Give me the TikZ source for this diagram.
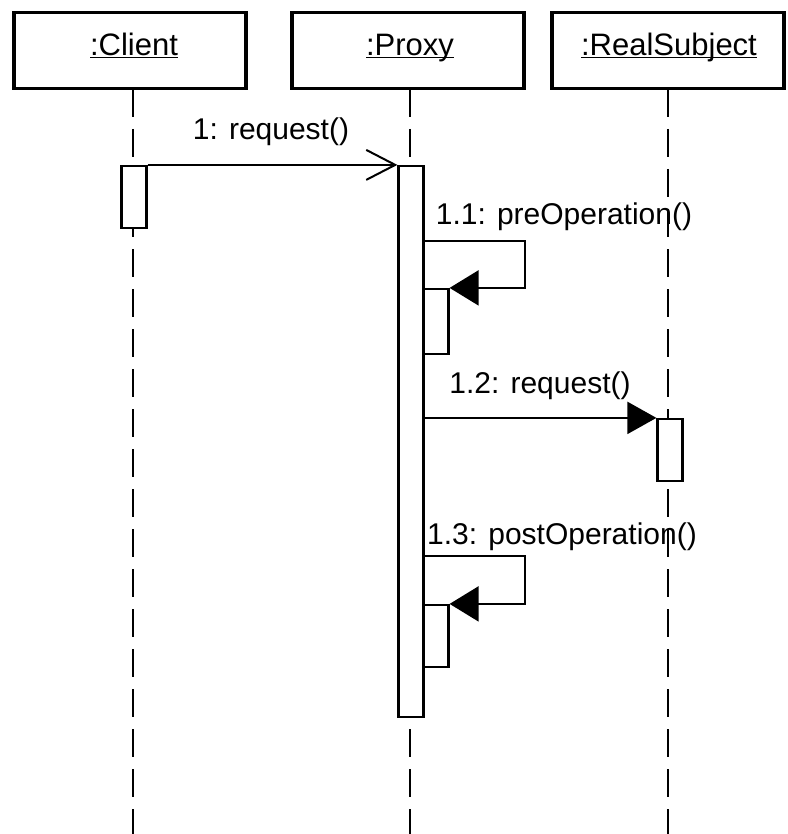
\documentclass[tikz,border=0pt]{standalone}
\usepackage{fontspec}
\setmainfont{Liberation Sans}
\usetikzlibrary{arrows.meta}
\newcommand{\myul}[1]{\underline{\smash{#1}}}
\begin{document}
\begin{tikzpicture}[x=1pt,y=-1pt,
  objbox/.style={draw,line width=3.5pt,minimum width=232pt,minimum height=76pt,inner sep=0pt,fill=white},
  lifeline/.style={line width=2pt,dash pattern=on 28pt off 12pt},
  actbox/.style={draw,line width=2.2pt,fill=white,minimum width=25pt,inner sep=0pt},
  msg/.style={line width=2pt},
  lbl/.style={font=\fontsize{30}{35}\selectfont,inner sep=0pt},
  ttl/.style={font=\fontsize{31}{37}\selectfont,inner sep=0pt,anchor=base}
]
\useasboundingbox (0,0) rectangle (787,834);
% object boxes
\node[objbox] (client) at (130,50.5) {};
\node[objbox] (proxy) at (408,50.5) {};
\node[objbox] (real) at (668,50.5) {};
\node[ttl] at (134,56) {\myul{:Client}};
\node[ttl] at (410,56) {\myul{:Proxy}};
\node[ttl] at (669,56) {\myul{:RealSubject}};
% lifeline ends
\coordinate (cend) at (133,834);
\coordinate (pend) at (410,834);
\coordinate (rend) at (668,834);
\draw[lifeline] (133,89) -- (cend);
\draw[lifeline] (410,89) -- (pend);
\draw[lifeline] (668,89) -- (rend);
% activations
\node[actbox,minimum height=62pt] (cact) at (134,197) {};
\node[actbox,minimum height=551pt] (pact) at (411,441.5) {};
\node[actbox,minimum height=65pt] (n1) at (436,321.5) {};
\node[actbox,minimum height=62pt] (ract) at (670,450) {};
\node[actbox,minimum height=62pt] (n3) at (436,636) {};
% message 1
\draw[msg,-{Straight Barb[length=29pt,width=30pt,line width=2pt]}] (cact.north east) -- (pact.north west);
\node[lbl] at (271,132) {1: request()};
% message 1.1
\coordinate (s1a) at (525,241);
\draw[msg,-{Triangle[length=29pt,width=35pt]}] (pact.east |- s1a) -- (s1a) |- (n1.north east);
\node[lbl] at (564,217) {1.1: preOperation()};
% message 1.2
\draw[msg,-{Triangle[length=29pt,width=32pt]}] (pact.east |- ract.north) -- (ract.north west);
\node[lbl] at (540,386) {1.2: request()};
% message 1.3
\coordinate (s3a) at (525,556);
\draw[msg,-{Triangle[length=29pt,width=35pt]}] (pact.east |- s3a) -- (s3a) |- (n3.north east);
\node[lbl] at (562,537) {1.3: postOperation()};
\end{tikzpicture}
\end{document}
